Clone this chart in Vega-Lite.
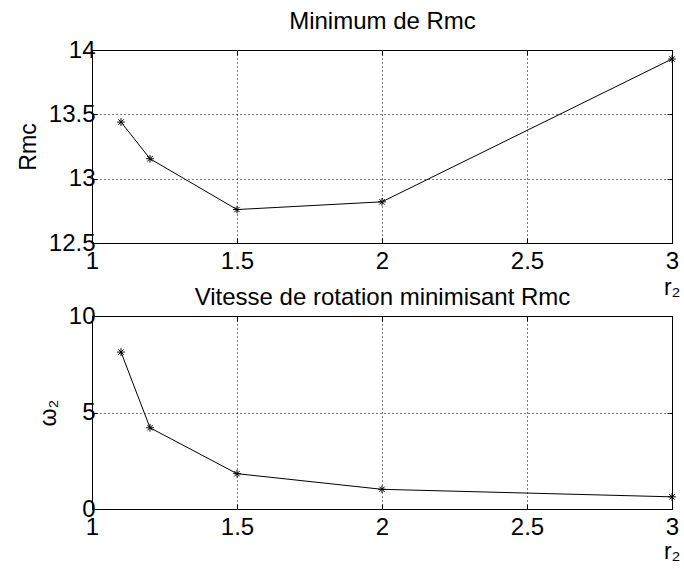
{
  "$schema": "https://vega.github.io/schema/vega-lite/v6.json",
  "background": "white",
  "padding": {"left": 16, "top": 9, "right": 3, "bottom": 3},
  "datasets": {
    "pts": [
      {"r2": 1.1, "rmc": 13.44, "omega": 8.13},
      {"r2": 1.2, "rmc": 13.155, "omega": 4.21},
      {"r2": 1.5, "rmc": 12.76, "omega": 1.83},
      {"r2": 2.0, "rmc": 12.82, "omega": 1.02},
      {"r2": 3.0, "rmc": 13.93, "omega": 0.63}
    ]
  },
  "config": {
    "font": "Liberation Sans",
    "view": {"stroke": "black", "strokeWidth": 1},
    "axis": {
      "labelFont": "Liberation Sans",
      "labelFontSize": 24,
      "labelColor": "black",
      "titleFont": "Liberation Sans",
      "titleFontSize": 23,
      "titleFontWeight": "normal",
      "titleColor": "black",
      "tickColor": "black",
      "tickSize": -5,
      "domain": false,
      "gridColor": "black",
      "gridDash": [1, 3],
      "gridOpacity": 1,
      "gridWidth": 1
    }
  },
  "bounds": "flush",
  "spacing": 73,
  "vconcat": [
    {
      "width": 580,
      "height": 193,
      "data": {"name": "pts"},
      "layer": [
        {
          "mark": {"type": "line", "color": "black", "strokeWidth": 1},
          "encoding": {
            "x": {"field": "r2", "type": "quantitative", "scale": {"domain": [1, 3], "nice": false},
              "axis": {"values": [1, 1.5, 2, 2.5, 3], "format": "~r", "grid": true, "labelPadding": 11, "labelFlush": false,
                "title": "r₂", "titleX": 588, "titleY": 51, "titleAlign": "right", "titleBaseline": "alphabetic", "titleAnchor": "end"}},
            "y": {"field": "rmc", "type": "quantitative", "scale": {"domain": [12.5, 14], "nice": false},
              "axis": {"values": [12.5, 13, 13.5, 14], "format": "~r", "grid": true, "labelPadding": 2, "labelFlush": false, "title": "Rmc", "titlePadding": 8}}
          }
        },
        {
          "mark": {"type": "point", "shape": "M-1,0H1M0,-1V1M-0.7,-0.7L0.7,0.7M-0.7,0.7L0.7,-0.7", "size": 60, "filled": false, "color": "black", "strokeWidth": 1, "opacity": 1},
          "encoding": {
            "x": {"field": "r2", "type": "quantitative", "axis": {"orient": "top", "values": [1, 1.5, 2, 2.5, 3], "labels": false, "grid": false,
              "title": "Minimum de Rmc", "titleFontSize": 24, "titlePadding": 21, "titleBaseline": "alphabetic"}},
            "y": {"field": "rmc", "type": "quantitative", "axis": {"orient": "right", "values": [12.5, 13, 13.5, 14], "labels": false, "grid": false, "title": null}}
          }
        }
      ],
      "resolve": {"axis": {"x": "independent", "y": "independent"}}
    },
    {
      "width": 580,
      "height": 193,
      "data": {"name": "pts"},
      "layer": [
        {
          "mark": {"type": "line", "color": "black", "strokeWidth": 1},
          "encoding": {
            "x": {"field": "r2", "type": "quantitative", "scale": {"domain": [1, 3], "nice": false},
              "axis": {"values": [1, 1.5, 2, 2.5, 3], "format": "~r", "grid": true, "labelPadding": 11, "labelFlush": false,
                "title": "r₂", "titleX": 588, "titleY": 49, "titleAlign": "right", "titleBaseline": "alphabetic", "titleAnchor": "end"}},
            "y": {"field": "omega", "type": "quantitative", "scale": {"domain": [0, 10], "nice": false},
              "axis": {"values": [0, 5, 10], "format": "~r", "grid": true, "labelPadding": 2, "labelFlush": false, "title": "ω₂", "titlePadding": 8}}
          }
        },
        {
          "mark": {"type": "point", "shape": "M-1,0H1M0,-1V1M-0.7,-0.7L0.7,0.7M-0.7,0.7L0.7,-0.7", "size": 60, "filled": false, "color": "black", "strokeWidth": 1, "opacity": 1},
          "encoding": {
            "x": {"field": "r2", "type": "quantitative", "axis": {"orient": "top", "values": [1, 1.5, 2, 2.5, 3], "labels": false, "grid": false,
              "title": "Vitesse de rotation minimisant Rmc", "titleFontSize": 24, "titlePadding": 11, "titleBaseline": "alphabetic"}},
            "y": {"field": "omega", "type": "quantitative", "axis": {"orient": "right", "values": [0, 5, 10], "labels": false, "grid": false, "title": null}}
          }
        }
      ],
      "resolve": {"axis": {"x": "independent", "y": "independent"}}
    }
  ]
}
